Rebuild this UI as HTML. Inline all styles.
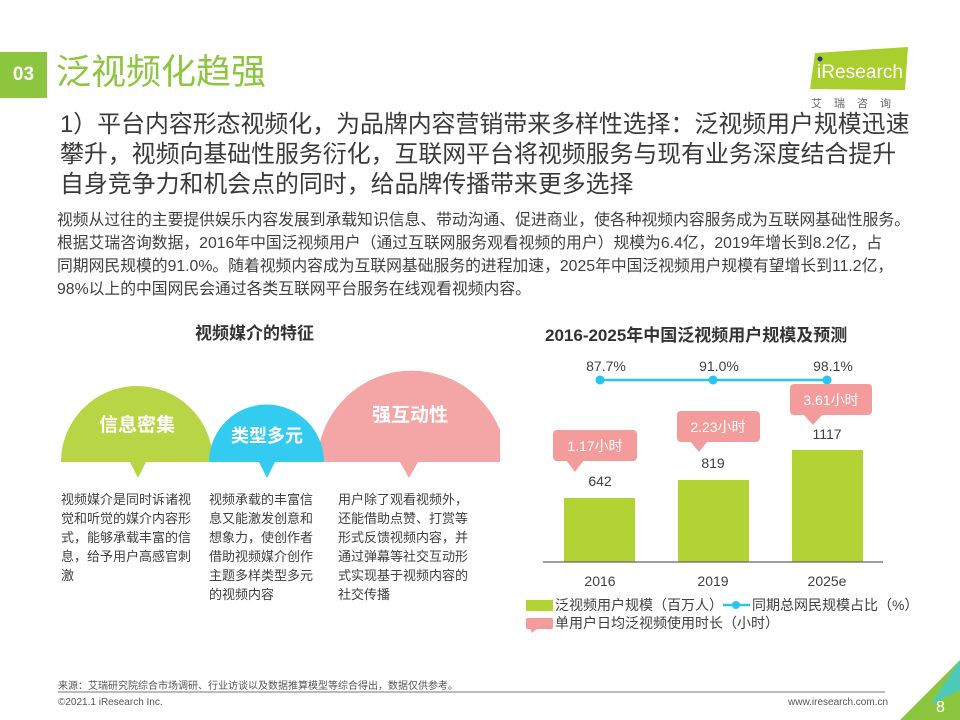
<!DOCTYPE html>
<html><head><meta charset="utf-8"><style>
body{margin:0;width:960px;height:720px;background:#fff;position:relative;overflow:hidden;font-family:"Liberation Sans","Noto Sans CJK SC",sans-serif;color:#404040}
.a{position:absolute;white-space:nowrap}
</style></head><body>
<div class="a" style="left:0;top:52px;width:47px;height:46px;background:#8cc63f;color:#fff;font-size:19px;font-weight:bold;line-height:46px;text-align:center">03</div>
<div class="a" style="left:56px;top:47px;font-size:35px;color:#8cc63f;line-height:52px">泛视频化趋强</div>
<svg class="a" style="left:805px;top:45px" width="110" height="70"><polygon points="10,8 103,2 100,45 5,44" fill="#a8cf2e"/><text x="12" y="33" font-size="19" fill="#fff" font-family="Liberation Sans" textLength="86" lengthAdjust="spacingAndGlyphs">iResearch</text><circle cx="15" cy="14" r="2.5" fill="#1b3b6f"/><text x="6" y="62" font-size="11" fill="#666" font-family="Noto Sans CJK SC" letter-spacing="12">艾瑞咨询</text></svg>
<div class="a" style="left:60px;top:110px;font-size:23.9px;line-height:30px;color:#3a3a3a">1）平台内容形态视频化，为品牌内容营销带来多样性选择：泛视频用户规模迅速<br>攀升，视频向基础性服务衍化，互联网平台将视频服务与现有业务深度结合提升<br>自身竞争力和机会点的同时，给品牌传播带来更多选择</div>
<div class="a" style="left:57px;top:209px;font-size:15.8px;line-height:23px;color:#404040">视频从过往的主要提供娱乐内容发展到承载知识信息、带动沟通、促进商业，使各种视频内容服务成为互联网基础性服务。<br>根据艾瑞咨询数据，2016年中国泛视频用户（通过互联网服务观看视频的用户）规模为6.4亿，2019年增长到8.2亿，占<br>同期网民规模的91.0%。随着视频内容成为互联网基础服务的进程加速，2025年中国泛视频用户规模有望增长到11.2亿，<br>98%以上的中国网民会通过各类互联网平台服务在线观看视频内容。</div>
<div class="a" style="left:195px;top:319px;font-size:17px;font-weight:bold;color:#333">视频媒介的特征</div>
<svg class="a" style="left:0;top:0" width="520" height="490">
<path d="M61 462 A76 76 0 0 1 213 462 Z" fill="#b8d546"/>
<polygon points="130,462 146,462 138,478" fill="#b8d546"/>
<path d="M317 462 A95 95 0 0 1 500 430 L500 462 Z" fill="#f4a5a5"/>
<polygon points="400,462 418,462 409,478" fill="#f4a5a5"/>
<path d="M209 462 A57.5 57.5 0 0 1 324 462 Z" fill="#33ccf0"/>
<polygon points="259,462 275,462 267,478" fill="#33ccf0"/>
<g font-family="Noto Sans CJK SC" font-weight="bold" fill="#fff" text-anchor="middle">
<text x="137" y="431" font-size="19">信息密集</text>
<text x="267" y="442" font-size="18">类型多元</text>
<text x="410" y="421" font-size="19">强互动性</text></g>
</svg>
<div class="a" style="left:61px;top:490px;font-size:13px;line-height:19px;color:#404040">视频媒介是同时诉诸视<br>觉和听觉的媒介内容形<br>式，能够承载丰富的信<br>息，给予用户高感官刺<br>激</div>
<div class="a" style="left:209px;top:490px;font-size:13px;line-height:19px;color:#404040">视频承载的丰富信<br>息又能激发创意和<br>想象力，使创作者<br>借助视频媒介创作<br>主题多样类型多元<br>的视频内容</div>
<div class="a" style="left:338px;top:490px;font-size:13px;line-height:19px;color:#404040">用户除了观看视频外，<br>还能借助点赞、打赏等<br>形式反馈视频内容，并<br>通过弹幕等社交互动形<br>式实现基于视频内容的<br>社交传播</div>
<div class="a" style="left:545px;top:321px;font-size:17px;font-weight:bold;color:#333">2016-2025年中国泛视频用户规模及预测</div>
<svg class="a" style="left:0;top:0" width="960" height="640" font-family="Liberation Sans,Noto Sans CJK SC">
<rect x="564" y="498" width="71" height="64" fill="#b3d234"/>
<rect x="678" y="480" width="71" height="82" fill="#b3d234"/>
<rect x="792" y="450" width="71" height="112" fill="#b3d234"/>
<line x1="543" y1="562" x2="883" y2="562" stroke="#666" stroke-width="1.2"/>
<g font-size="14" fill="#404040" text-anchor="middle">
<text x="600" y="486">642</text><text x="713" y="468">819</text><text x="827" y="439">1117</text>
<text x="600" y="586">2016</text><text x="713" y="586">2019</text><text x="827" y="586">2025e</text>
<text x="606" y="371">87.7%</text><text x="719" y="371">91.0%</text><text x="833" y="371">98.1%</text></g>
<line x1="600" y1="380" x2="827" y2="380" stroke="#29c5f0" stroke-width="2.5"/>
<circle cx="600" cy="380" r="4.5" fill="#29c5f0"/><circle cx="713" cy="380" r="4.5" fill="#29c5f0"/><circle cx="827" cy="380" r="4.5" fill="#29c5f0"/>
<g fill="#f49c9c">
<rect x="553" y="430" width="84" height="31" rx="4"/><polygon points="566,460 584,460 575,472"/>
<rect x="677" y="411" width="83" height="31" rx="4"/><polygon points="690,441 708,441 699,452"/>
<rect x="790" y="384" width="82" height="31" rx="4"/><polygon points="803,414 823,414 813,425"/></g>
<g font-size="14" fill="#fff" text-anchor="middle"><text x="595" y="451">1.17小时</text><text x="718" y="432">2.23小时</text><text x="831" y="405">3.61小时</text></g>
<rect x="526" y="600" width="27" height="11" fill="#b3d234"/>
<text x="555" y="610" font-size="14" fill="#404040">泛视频用户规模（百万人）</text>
<line x1="723" y1="605" x2="750" y2="605" stroke="#29c5f0" stroke-width="2.5"/><circle cx="736" cy="605" r="4" fill="#29c5f0"/>
<text x="752" y="610" font-size="14" fill="#404040">同期总网民规模占比（%）</text>
<rect x="526" y="618" width="27" height="11" rx="2" fill="#f49c9c"/><polygon points="530,628 538,628 532,633" fill="#f49c9c"/>
<text x="555" y="628" font-size="14" fill="#404040">单用户日均泛视频使用时长（小时）</text>
</svg>
<div class="a" style="left:58px;top:677px;font-size:10px;color:#555">来源：艾瑞研究院综合市场调研、行业访谈以及数据推算模型等综合得出，数据仅供参考。</div>
<div class="a" style="left:58px;top:691px;width:827px;height:2px;background:#bbb"></div>
<div class="a" style="left:58px;top:697px;font-size:10px;color:#555">©2021.1 iResearch Inc.</div>
<div class="a" style="left:788px;top:697px;font-size:10px;color:#555">www.iresearch.com.cn</div>
<svg class="a" style="left:900px;top:660px" width="60" height="60"><polygon points="60,0 60,60 0,60" fill="#8cc63f"/><polygon points="60,0 60,30 30,45" fill="#33ccf0" opacity="0.7"/><text x="36" y="52" font-size="16" fill="#fff" font-family="Liberation Sans">8</text></svg>
</body></html>
